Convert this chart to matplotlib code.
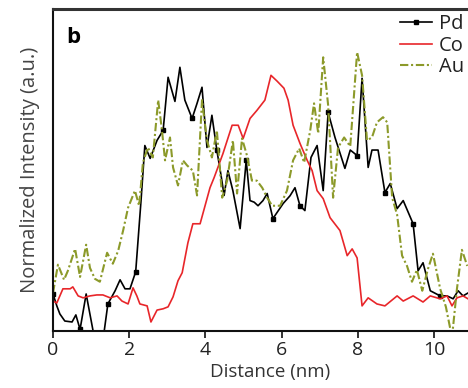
import matplotlib
matplotlib.use("Agg")
import matplotlib.pyplot as plt

plt.rcParams['font.family'] = ['Open Sans', 'DejaVu Sans']

# Pd (black, square markers)
pd_x = [0.00, 0.10, 0.18, 0.31, 0.50, 0.60, 0.71, 0.87, 1.10, 1.31, 1.44, 1.63, 1.76, 1.89, 2.02,
        2.17, 2.31, 2.41, 2.55, 2.73, 2.89, 3.02, 3.20, 3.33, 3.46, 3.65, 3.78, 3.91, 4.04, 4.17,
        4.30, 4.41, 4.49, 4.59, 4.72, 4.91, 5.07, 5.17, 5.28, 5.38, 5.51, 5.62, 5.77, 6.04, 6.22,
        6.35, 6.48, 6.61, 6.77, 6.93, 7.09, 7.22, 7.40, 7.66, 7.80, 7.98, 8.11, 8.27, 8.37, 8.53,
        8.71, 8.85, 9.03, 9.19, 9.45, 9.58, 9.71, 9.90, 10.16, 10.34, 10.50, 10.63, 10.76, 10.89]
pd_y = [0.115, 0.078, 0.053, 0.031, 0.028, 0.050, 0.005, 0.115, -0.03, -0.03, 0.084, 0.125, 0.159, 0.131, 0.131,
        0.184, 0.405, 0.576, 0.536, 0.592, 0.623, 0.788, 0.713, 0.819, 0.717, 0.660, 0.707, 0.757, 0.570, 0.670,
        0.561, 0.483, 0.421, 0.498, 0.436, 0.318, 0.530, 0.405, 0.400, 0.389, 0.405, 0.427, 0.349, 0.396, 0.420,
        0.445, 0.389, 0.374, 0.539, 0.576, 0.436, 0.679, 0.601, 0.505, 0.562, 0.545, 0.785, 0.508, 0.562, 0.562,
        0.430, 0.458, 0.380, 0.405, 0.333, 0.187, 0.212, 0.125, 0.109, 0.109, 0.100, 0.125, 0.109, 0.118]
pd_marks = [0, 6, 10, 15, 20, 25, 30, 36, 42, 46, 51, 55, 60, 64, 68]

# Co (red)
co_x = [0.00, 0.10, 0.26, 0.45, 0.52, 0.66, 0.79, 0.97, 1.15, 1.31, 1.50, 1.68, 1.81, 1.97, 2.10,
        2.20, 2.28, 2.47, 2.57, 2.73, 2.89, 3.02, 3.15, 3.28, 3.39, 3.54, 3.67, 3.86, 3.99, 4.12,
        4.23, 4.46, 4.70, 4.86, 4.99, 5.17, 5.35, 5.56, 5.72, 5.88, 6.06, 6.17, 6.30, 6.48, 6.67,
        6.80, 6.93, 7.09, 7.27, 7.53, 7.72, 7.85, 7.98, 8.11, 8.27, 8.50, 8.71, 9.03, 9.19, 9.45,
        9.71, 9.90, 10.16, 10.34, 10.47, 10.60, 10.76, 10.89]
co_y = [0.093, 0.087, 0.131, 0.131, 0.137, 0.109, 0.103, 0.109, 0.112, 0.112, 0.103, 0.109, 0.093, 0.084, 0.134,
        0.109, 0.084, 0.078, 0.028, 0.065, 0.069, 0.075, 0.106, 0.156, 0.181, 0.274, 0.333, 0.333, 0.389, 0.445,
        0.477, 0.551, 0.639, 0.639, 0.598, 0.660, 0.685, 0.717, 0.794, 0.776, 0.754, 0.717, 0.639, 0.583, 0.530,
        0.498, 0.436, 0.411, 0.352, 0.312, 0.234, 0.255, 0.227, 0.078, 0.103, 0.084, 0.078, 0.109, 0.093, 0.109,
        0.090, 0.109, 0.100, 0.109, 0.078, 0.103, 0.109, 0.100]

# Au (olive, dash-dot)
au_x = [0.00, 0.13, 0.29, 0.39, 0.58, 0.71, 0.87, 0.97, 1.10, 1.23, 1.42, 1.57, 1.71, 1.84, 1.97,
        2.15, 2.26, 2.36, 2.49, 2.62, 2.76, 2.86, 2.94, 3.07, 3.15, 3.28, 3.41, 3.52, 3.67, 3.78,
        3.91, 4.04, 4.17, 4.30, 4.44, 4.57, 4.72, 4.83, 4.96, 5.09, 5.22, 5.35, 5.49, 5.62, 5.75,
        5.96, 6.14, 6.30, 6.46, 6.59, 6.75, 6.85, 6.96, 7.09, 7.22, 7.35, 7.48, 7.64, 7.80, 7.98,
        8.11, 8.24, 8.37, 8.50, 8.66, 8.77, 8.90, 9.03, 9.16, 9.29, 9.42, 9.55, 9.69, 9.84, 9.97,
        10.16, 10.31, 10.47, 10.60, 10.73, 10.87]
au_y = [0.118, 0.206, 0.159, 0.187, 0.255, 0.168, 0.268, 0.196, 0.162, 0.153, 0.243, 0.209, 0.249, 0.312, 0.383,
        0.436, 0.389, 0.523, 0.570, 0.539, 0.717, 0.623, 0.530, 0.601, 0.508, 0.452, 0.530, 0.514, 0.498, 0.421,
        0.717, 0.592, 0.539, 0.623, 0.414, 0.467, 0.592, 0.427, 0.598, 0.545, 0.467, 0.467, 0.445, 0.414, 0.389,
        0.389, 0.436, 0.530, 0.567, 0.523, 0.623, 0.707, 0.614, 0.850, 0.701, 0.414, 0.570, 0.601, 0.573, 0.866,
        0.794, 0.592, 0.601, 0.648, 0.664, 0.648, 0.414, 0.361, 0.234, 0.202, 0.153, 0.190, 0.125, 0.193, 0.240,
        0.131, 0.075, -0.02, 0.131, 0.252, 0.202]

xticks = [0, 2, 4, 6, 8, 10]

fig = plt.figure(figsize=(4.68, 3.88), dpi=100)
ax = fig.add_axes([53/468, 1 - 331/388, 1 - 53/468, (331 - 9)/388])

ax.plot(pd_x, pd_y, color='black', lw=1.2, marker='s', ms=3.0, markevery=pd_marks, label='Pd')
ax.plot(co_x, co_y, color='#e8262a', lw=1.2, label='Co')
ax.plot(au_x, au_y, color='#8c9a2a', lw=1.5, dashes=(4, 1.3, 1, 1.3), label='Au')

ax.set_xlim(0, 10.89)
ax.set_ylim(0, 1)
ax.set_xticks(xticks)
ax.set_xticklabels([str(t) for t in xticks])
ax.set_yticks([])
ax.tick_params(axis='x', direction='out', length=5, width=1.3, labelsize=14, colors='#222222', pad=2)
for s in ['left', 'bottom']:
    ax.spines[s].set_linewidth(1.5)
    ax.spines[s].set_color('#111111')
ax.spines['top'].set_linewidth(2.2)
ax.spines['top'].set_color('#333333')
ax.spines['right'].set_visible(False)

ax.set_xlabel('Distance (nm)', fontsize=13.5, color='#333333', labelpad=3)
ax.xaxis.set_label_coords(0.523, -0.1)
ax.set_ylabel('Normalized Intensity (a.u.)', fontsize=14.5, color='#444444', labelpad=9)

ax.text(0.033, 0.945, 'b', transform=ax.transAxes, fontsize=16, fontweight='bold', va='top', ha='left')

leg = ax.legend(loc='upper right', bbox_to_anchor=(464/468, 1 - 14/388), bbox_transform=fig.transFigure,
                frameon=False, fontsize=14.5, handlelength=1.6, handletextpad=0.35, labelspacing=0.08,
                borderaxespad=0, borderpad=0)
for t in leg.get_texts():
    t.set_color('#222222')

fig.savefig('out.png', dpi=100)
